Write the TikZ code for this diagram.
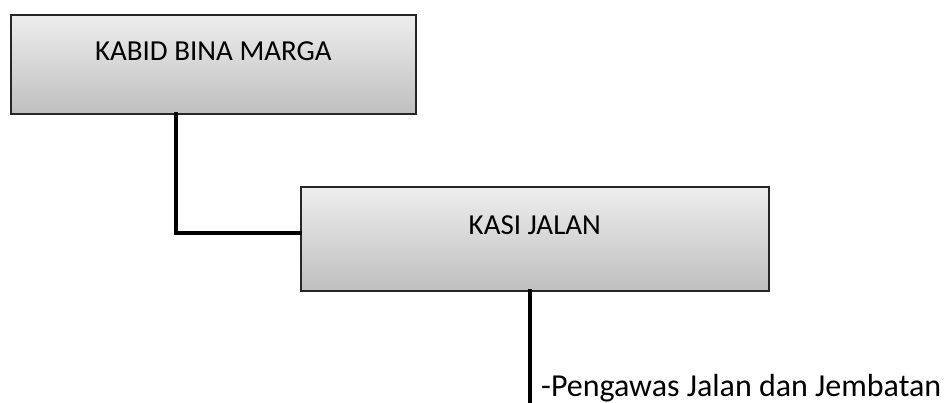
\documentclass[tikz,border=0pt]{standalone}
\usepackage{fontspec}
\setmainfont{Carlito}
\usetikzlibrary{shadows}
\begin{document}
\begin{tikzpicture}[x=1pt,y=-1pt,
  orgbox/.style={draw=black!85, line width=1.6pt, rectangle, inner sep=0pt,
    top color=black!7, bottom color=black!25,
    drop shadow={shadow xshift=1.5pt, shadow yshift=-1.5pt, fill=black, opacity=0.35},
    font=\fontsize{29}{33}\selectfont},
  conn/.style={line width=4.8pt, black, line cap=rect},
  note/.style={inner sep=0pt, font=\fontsize{32}{36}\selectfont}]
\useasboundingbox (0,0) rectangle (947,403);
\clip (0,0) rectangle (947,403);
\node[orgbox, anchor=north west, minimum width=405pt, minimum height=99pt,
  text height=19pt, text depth=27pt] (kabid) at (10,14) {KABID BINA MARGA};
\node[orgbox, anchor=north west, minimum width=468pt, minimum height=104pt,
  text height=19pt, text depth=28pt] (kasi) at (300,186) {KASI JALAN};
\coordinate (bend) at (176,233);
\coordinate (down) at (530,410);
\draw[conn] (kabid.south -| bend) -- (bend) -- (bend -| kasi.west);
\draw[conn] (kasi.south -| down) -- (down);
\node[note, anchor=base west] (peng) at (541,396) {-Pengawas Jalan dan Jembatan};
\end{tikzpicture}
\end{document}
